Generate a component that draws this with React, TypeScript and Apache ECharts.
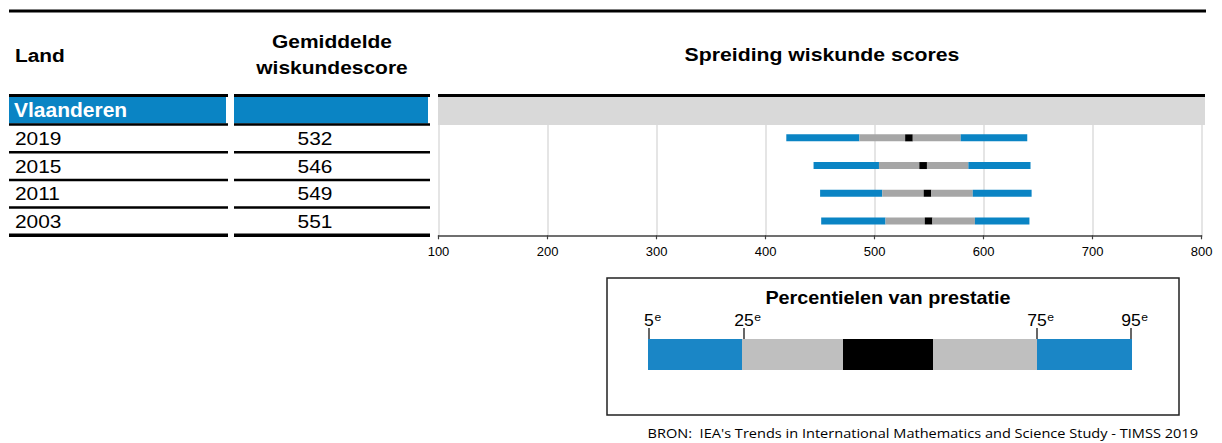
import React, { useEffect, useRef } from "react";
import * as echarts from "echarts";

// ---- data ----
const regionName = "Vlaanderen";
const years = ["2019", "2015", "2011", "2003"];
const means = [532, 546, 549, 551];
const p5 = [419, 444, 450, 451];
const p25 = [486, 504, 507, 510];
const ciLow = [528, 541, 545, 546];
const ciHigh = [535, 548, 552, 553];
const p75 = [579, 586, 590, 592];
const p95 = [640, 643, 644, 642];
const axisMin = 100;
const axisMax = 800;
const axisStep = 100;
const legendPercentiles = ["5", "25", "75", "95"];

const headerLand = "Land";
const headerMean = ["Gemiddelde", "wiskundescore"];
const headerSpread = "Spreiding wiskunde scores";
const legendTitle = "Percentielen van prestatie";
const sourceText = "BRON:  IEA's Trends in International Mathematics and Science Study - TIMSS 2019";

const BLUE = "#0A84C4";
const GREY = "#A6A6A6";
const BLACK = "#000000";
const LBLUE = "#1A86C6";
const LGREY = "#BFBFBF";
const FONT = "'Liberation Sans', Arial, sans-serif";

export default function App() {
  const ref = useRef<HTMLDivElement>(null);
  useEffect(() => {
    document.body.style.margin = "0";
    const chart = echarts.init(ref.current!, null, { renderer: "svg" });

    const gridTop = 124.5;
    const gridBottom = 235.3;
    const rowH = (gridBottom - gridTop) / years.length;

    const g: any[] = [];
    const line = (x1: number, y1: number, x2: number, y2: number, w: number, c = "#000") =>
      g.push({ type: "line", shape: { x1, y1, x2, y2 }, style: { stroke: c, lineWidth: w }, z: 10 });
    const text = (t: string, x: number, y: number, size: number, opts: any = {}) =>
      g.push({
        type: "text",
        x,
        y,
        scaleX: opts.sx || 1,
        z: 11,
        style: {
          text: t,
          fill: opts.fill || "#000",
          fontSize: size,
          fontWeight: opts.bold ? "bold" : "normal",
          fontFamily: opts.family || FONT,
          textAlign: opts.align || "left",
          textVerticalAlign: "middle",
        },
      });

    // top rule
    line(9, 11, 1206, 11, 3);
    // headers
    text(headerLand, 15, 56, 18, { bold: true, sx: 1.16 });
    text(headerMean[0], 332, 42, 18, { bold: true, align: "center", sx: 1.165 });
    text(headerMean[1], 332, 68, 18, { bold: true, align: "center", sx: 1.165 });
    text(headerSpread, 822, 55, 18, { bold: true, align: "center", sx: 1.18 });
    // header rules
    line(9, 95.5, 228, 95.5, 3);
    line(234, 95.5, 430, 95.5, 3);
    line(438, 95.5, 1205, 95.5, 3);
    // region row
    g.push({ type: "rect", shape: { x: 9, y: 97, width: 217, height: 26.5 }, style: { fill: BLUE }, z: 5 });
    g.push({ type: "rect", shape: { x: 234, y: 97, width: 194, height: 26.5 }, style: { fill: BLUE }, z: 5 });
    g.push({ type: "rect", shape: { x: 438, y: 97, width: 767, height: 28 }, style: { fill: "#D9D9D9" }, z: 5 });
    text(regionName, 14, 110, 20, { bold: true, fill: "#fff", sx: 1.05 });
    // row lines and texts
    line(9, gridTop, 228, gridTop, 2.5);
    line(234, gridTop, 430, gridTop, 2.5);
    years.forEach((y, i) => {
      const cy = gridTop + rowH * (i + 0.5);
      const by = gridTop + rowH * (i + 1);
      text(y, 15, cy, 19, { sx: 1.1 });
      text(String(means[i]), 315, cy, 19, { align: "center", sx: 1.1 });
      const last = i === years.length - 1;
      line(9, by, 228, by, last ? 3.5 : 2.5);
      line(234, by, 430, by, last ? 3.5 : 2.5);
    });

    // legend box
    g.push({
      type: "rect",
      shape: { x: 607, y: 278, width: 572, height: 137 },
      style: { fill: "none", stroke: "#222", lineWidth: 1.5 },
      z: 5,
    });
    text(legendTitle, 888, 298, 18, { bold: true, align: "center", sx: 1.1 });
    const segs = [
      [648, 742, LBLUE],
      [742, 843, LGREY],
      [843, 933, BLACK],
      [933, 1037, LGREY],
      [1037, 1132, LBLUE],
    ] as [number, number, string][];
    segs.forEach(([a, b, c]) =>
      g.push({ type: "rect", shape: { x: a, y: 339, width: b - a, height: 31 }, style: { fill: c }, z: 6 })
    );
    const tickXs = [649, 744, 1037, 1131];
    legendPercentiles.forEach((p, i) => {
      const x = tickXs[i];
      line(x, 328, x, 339, 1.2);
      text(p, x, 321, 16, { align: "center", sx: 1.1 });
      text("e", x + (p.length * 0.556 * 16 * 1.1) / 2 + 0.5, 317.5, 11, { sx: 1.1 });
    });
    text(sourceText, 1198, 433, 13, { align: "right", family: "'Open Sans', sans-serif", sx: 1.12 });

    const data = years.map((_, i) => [i, p5[i], p25[i], ciLow[i], ciHigh[i], p75[i], p95[i]]);
    const colors = [BLUE, GREY, BLACK, GREY, BLUE];

    chart.setOption({
      animation: false,
      grid: { left: 438.5, right: 1222 - 1201.7, top: gridTop, bottom: 443 - gridBottom },
      xAxis: {
        type: "value",
        min: axisMin,
        max: axisMax,
        interval: axisStep,
        axisLine: { show: true, lineStyle: { color: "#404040", width: 1.5 } },
        axisTick: { show: true, length: 4, lineStyle: { color: "#404040", width: 1.2 } },
        axisLabel: { color: "#000", fontSize: 13, fontFamily: FONT, margin: 10 },
        splitLine: { show: true, lineStyle: { color: "#DCDCDC", width: 1.5 } },
      },
      yAxis: {
        type: "category",
        data: years,
        inverse: true,
        axisLine: { show: false },
        axisTick: { show: false },
        axisLabel: { show: false },
        splitLine: { show: false },
      },
      series: [
        {
          type: "custom",
          data,
          encode: { x: [1, 2, 3, 4, 5, 6], y: 0 },
          renderItem: (params: any, api: any) => {
            const cat = api.value(0);
            const vals = [1, 2, 3, 4, 5, 6].map((k) => api.value(k));
            const h = 7;
            const children = [];
            for (let k = 0; k < 5; k++) {
              const s = api.coord([vals[k], cat]);
              const e = api.coord([vals[k + 1], cat]);
              children.push({
                type: "rect",
                shape: { x: s[0], y: s[1] - h / 2 - 0.5, width: e[0] - s[0], height: h },
                style: { fill: colors[k] },
              });
            }
            return { type: "group", children };
          },
        },
      ],
      graphic: g,
    });
    return () => chart.dispose();
  }, []);
  return <div ref={ref} style={{ width: 1222, height: 443 }} />;
}
